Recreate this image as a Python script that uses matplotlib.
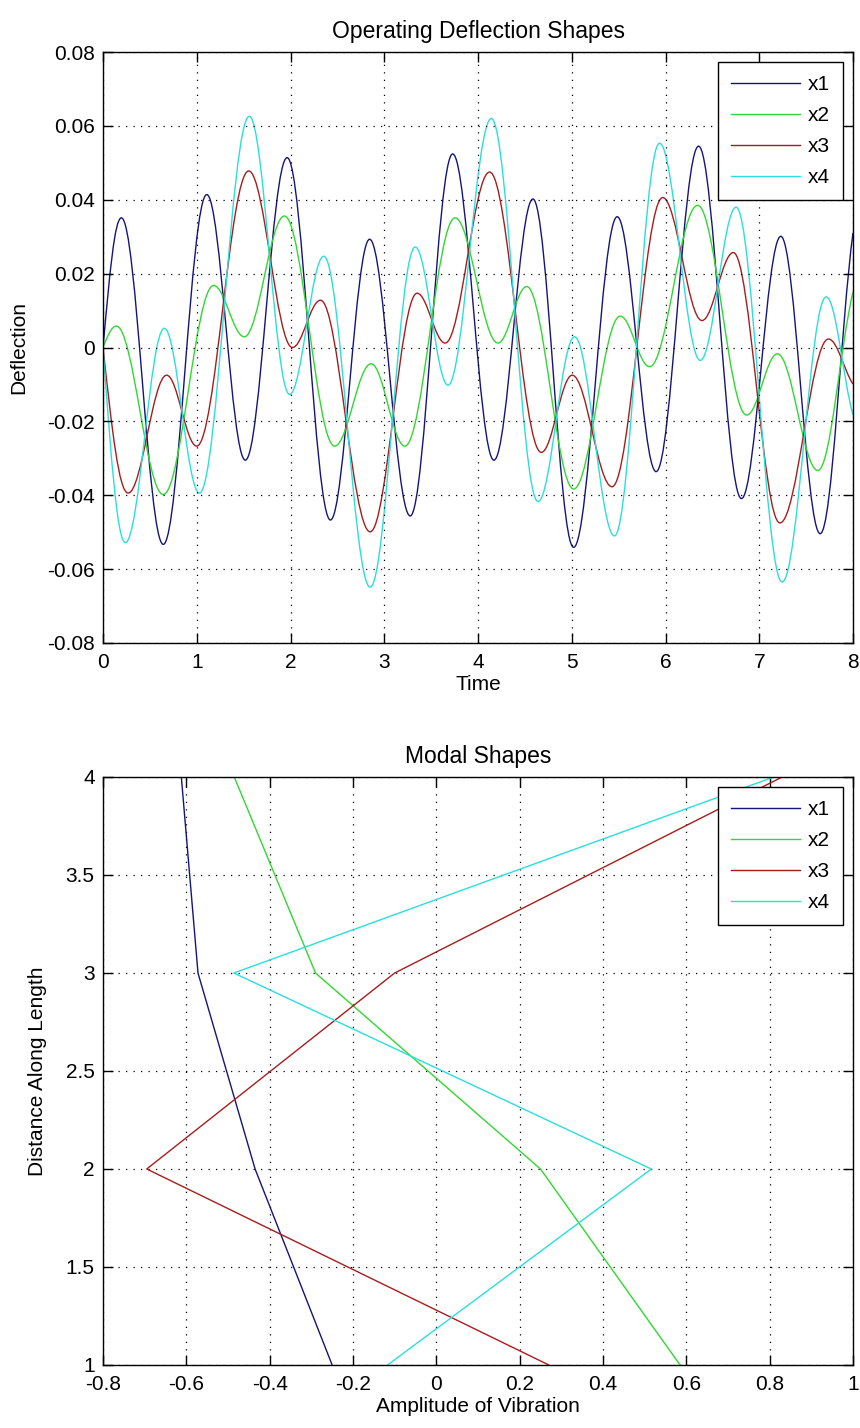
import numpy as np
import matplotlib.pyplot as plt
from matplotlib.path import Path
from matplotlib.patches import PathPatch
from matplotlib.lines import Line2D

plt.rcParams['font.family'] = ['Liberation Sans', 'DejaVu Sans']

# time response: turning points of each coordinate (time, deflection),
# first and last entries are the ends of the record
t_x1 = [0.0, 0.196, 0.643, 1.107, 1.518, 1.964, 2.426, 2.844, 3.277, 3.73,
        4.17, 4.586, 5.02, 5.485, 5.90, 6.353, 6.81, 7.23, 7.65, 8.0]
d_x1 = [0.0, 0.0351, -0.0533, 0.0414, -0.0305, 0.0514, -0.0467, 0.0293, -0.0456, 0.0524,
        -0.0305, 0.0402, -0.0541, 0.0354, -0.0336, 0.0545, -0.0409, 0.0301, -0.0504, 0.031]

t_x2 = [0.0, 0.143, 0.643, 1.18, 1.507, 1.936, 2.47, 2.86, 3.22, 3.755,
        4.213, 4.52, 5.02, 5.517, 5.83, 6.343, 6.866, 7.194, 7.625, 8.0]
d_x2 = [0.0, 0.0058, -0.0398, 0.0168, 0.0029, 0.0356, -0.0267, -0.0044, -0.0267, 0.0351,
        0.0012, 0.0165, -0.0383, 0.0085, -0.0052, 0.0385, -0.0183, -0.0017, -0.0333, 0.015]

t_x3 = [0.0, 0.268, 0.679, 1.0, 1.554, 2.02, 2.32, 2.85, 3.35, 3.65,
        4.124, 4.675, 5.005, 5.43, 5.97, 6.389, 6.724, 7.22, 7.738, 8.0]
d_x3 = [0.0, -0.0394, -0.0075, -0.0267, 0.0478, 0.0, 0.0128, -0.0499, 0.0147, 0.0012,
        0.0475, -0.0284, -0.0075, -0.0377, 0.0406, 0.0073, 0.0257, -0.0475, 0.0023, -0.0099]

t_x4 = [0.0, 0.239, 0.654, 1.029, 1.561, 1.99, 2.355, 2.85, 3.33, 3.68,
        4.142, 4.64, 5.03, 5.456, 5.936, 6.371, 6.753, 7.244, 7.714, 8.0]
d_x4 = [0.0, -0.0528, 0.0052, -0.0394, 0.0626, -0.0127, 0.0247, -0.0649, 0.0272, -0.0102,
        0.0620, -0.0417, 0.0029, -0.0510, 0.0553, -0.0035, 0.0380, -0.0635, 0.0137, -0.0183]

# mode shapes along the length
station = [1, 2, 3, 4]
mode_x1 = [-0.25, -0.435, -0.572, -0.612]
mode_x2 = [0.585, 0.25, -0.29, -0.485]
mode_x3 = [0.27, -0.695, -0.10, 0.83]
mode_x4 = [-0.117, 0.516, -0.486, 0.81]

names = ['x1', 'x2', 'x3', 'x4']
colors = ['#14147a', '#30d830', '#a81c1c', '#2adede']

defl_ticks = [-0.08, -0.06, -0.04, -0.02, 0, 0.02, 0.04, 0.06, 0.08]
defl_labels = ['-0.08', '-0.06', '-0.04', '-0.02', '0', '0.02', '0.04', '0.06', '0.08']
time_ticks = [0, 1, 2, 3, 4, 5, 6, 7, 8]
amp_ticks = [-0.8, -0.6, -0.4, -0.2, 0, 0.2, 0.4, 0.6, 0.8, 1]
amp_labels = ['-0.8', '-0.6', '-0.4', '-0.2', '0', '0.2', '0.4', '0.6', '0.8', '1']
dist_ticks = [1, 1.5, 2, 2.5, 3, 3.5, 4]
dist_labels = ['1', '1.5', '2', '2.5', '3', '3.5', '4']

FS = 15
K = 1 - 2 / np.pi  # cubic handle length giving a half-cosine between turning points


def swing_path(t, d):
    t = np.asarray(t, float)
    d = np.asarray(d, float)
    slope = np.zeros_like(d)
    # record ends are not turning points, so give them a tangent
    slope[0] = (d[1] - d[0]) / (t[1] - t[0]) * np.pi / 2
    slope[-1] = (d[-1] - d[-2]) / (t[-1] - t[-2]) * 0.8
    verts = [(t[0], d[0])]
    codes = [Path.MOVETO]
    for i in range(len(t) - 1):
        h = K * (t[i + 1] - t[i])
        verts += [(t[i] + h, d[i] + slope[i] * h),
                  (t[i + 1] - h, d[i + 1] - slope[i + 1] * h),
                  (t[i + 1], d[i + 1])]
        codes += [Path.CURVE4] * 3
    return Path(verts, codes)


def style_axes(ax):
    ax.grid(True, color='k', linestyle=(0, (1, 5)), linewidth=0.9)
    ax.tick_params(direction='in', length=7, width=1, top=True, right=True,
                   labelsize=FS)
    ax.tick_params(axis='y', pad=6)
    ax.tick_params(axis='x', pad=7.5)
    for s in ax.spines.values():
        s.set_linewidth(1.0)
        s.set_color('k')


def add_legend(ax, handles):
    leg = ax.legend(handles=handles, labels=names, loc='upper right', fontsize=FS,
                    fancybox=False, framealpha=1, edgecolor='k', borderpad=0.6,
                    labelspacing=0.58, handlelength=3.3, handletextpad=0.4,
                    borderaxespad=0.5)
    leg.get_frame().set_linewidth(1.0)


fig = plt.figure(figsize=(8.6, 14.28), dpi=100)
ax1 = fig.add_axes([103 / 860, 1 - 643 / 1428, 750 / 860, 591 / 1428])
ax2 = fig.add_axes([103 / 860, 1 - 1365 / 1428, 750 / 860, 588 / 1428])

# Operating deflection shapes
series = [(t_x1, d_x1), (t_x2, d_x2), (t_x3, d_x3), (t_x4, d_x4)]
for (t, d), c in zip(series, colors):
    ax1.add_patch(PathPatch(swing_path(t, d), facecolor='none', edgecolor=c, linewidth=1.0))
ax1.set_xlim(0, 8)
ax1.set_ylim(-0.08, 0.08)
ax1.set_xticks(time_ticks)
ax1.set_yticks(defl_ticks)
ax1.set_yticklabels(defl_labels)
style_axes(ax1)
ax1.set_title('Operating Deflection Shapes', fontsize=16.5, pad=10)
ax1.set_xlabel('Time', fontsize=FS, labelpad=2)
ax1.set_ylabel('Deflection', fontsize=FS)
ax1.yaxis.set_label_coords(-0.1, 0.5)
add_legend(ax1, [Line2D([], [], color=c, linewidth=1.0) for c in colors])

# Modal shapes
modes = [mode_x1, mode_x2, mode_x3, mode_x4]
lines = []
for m, c in zip(modes, colors):
    ln, = ax2.plot(m, station, color=c, linewidth=1.0)
    lines.append(ln)
ax2.set_xlim(-0.8, 1)
ax2.set_ylim(1, 4)
ax2.set_xticks(amp_ticks)
ax2.set_xticklabels(amp_labels)
ax2.set_yticks(dist_ticks)
ax2.set_yticklabels(dist_labels)
style_axes(ax2)
ax2.set_title('Modal Shapes', fontsize=16.5, pad=10)
ax2.set_xlabel('Amplitude of Vibration', fontsize=FS, labelpad=2)
ax2.set_ylabel('Distance Along Length', fontsize=FS)
ax2.yaxis.set_label_coords(-0.075, 0.5)
add_legend(ax2, lines)

fig.savefig('out.png', dpi=100)
